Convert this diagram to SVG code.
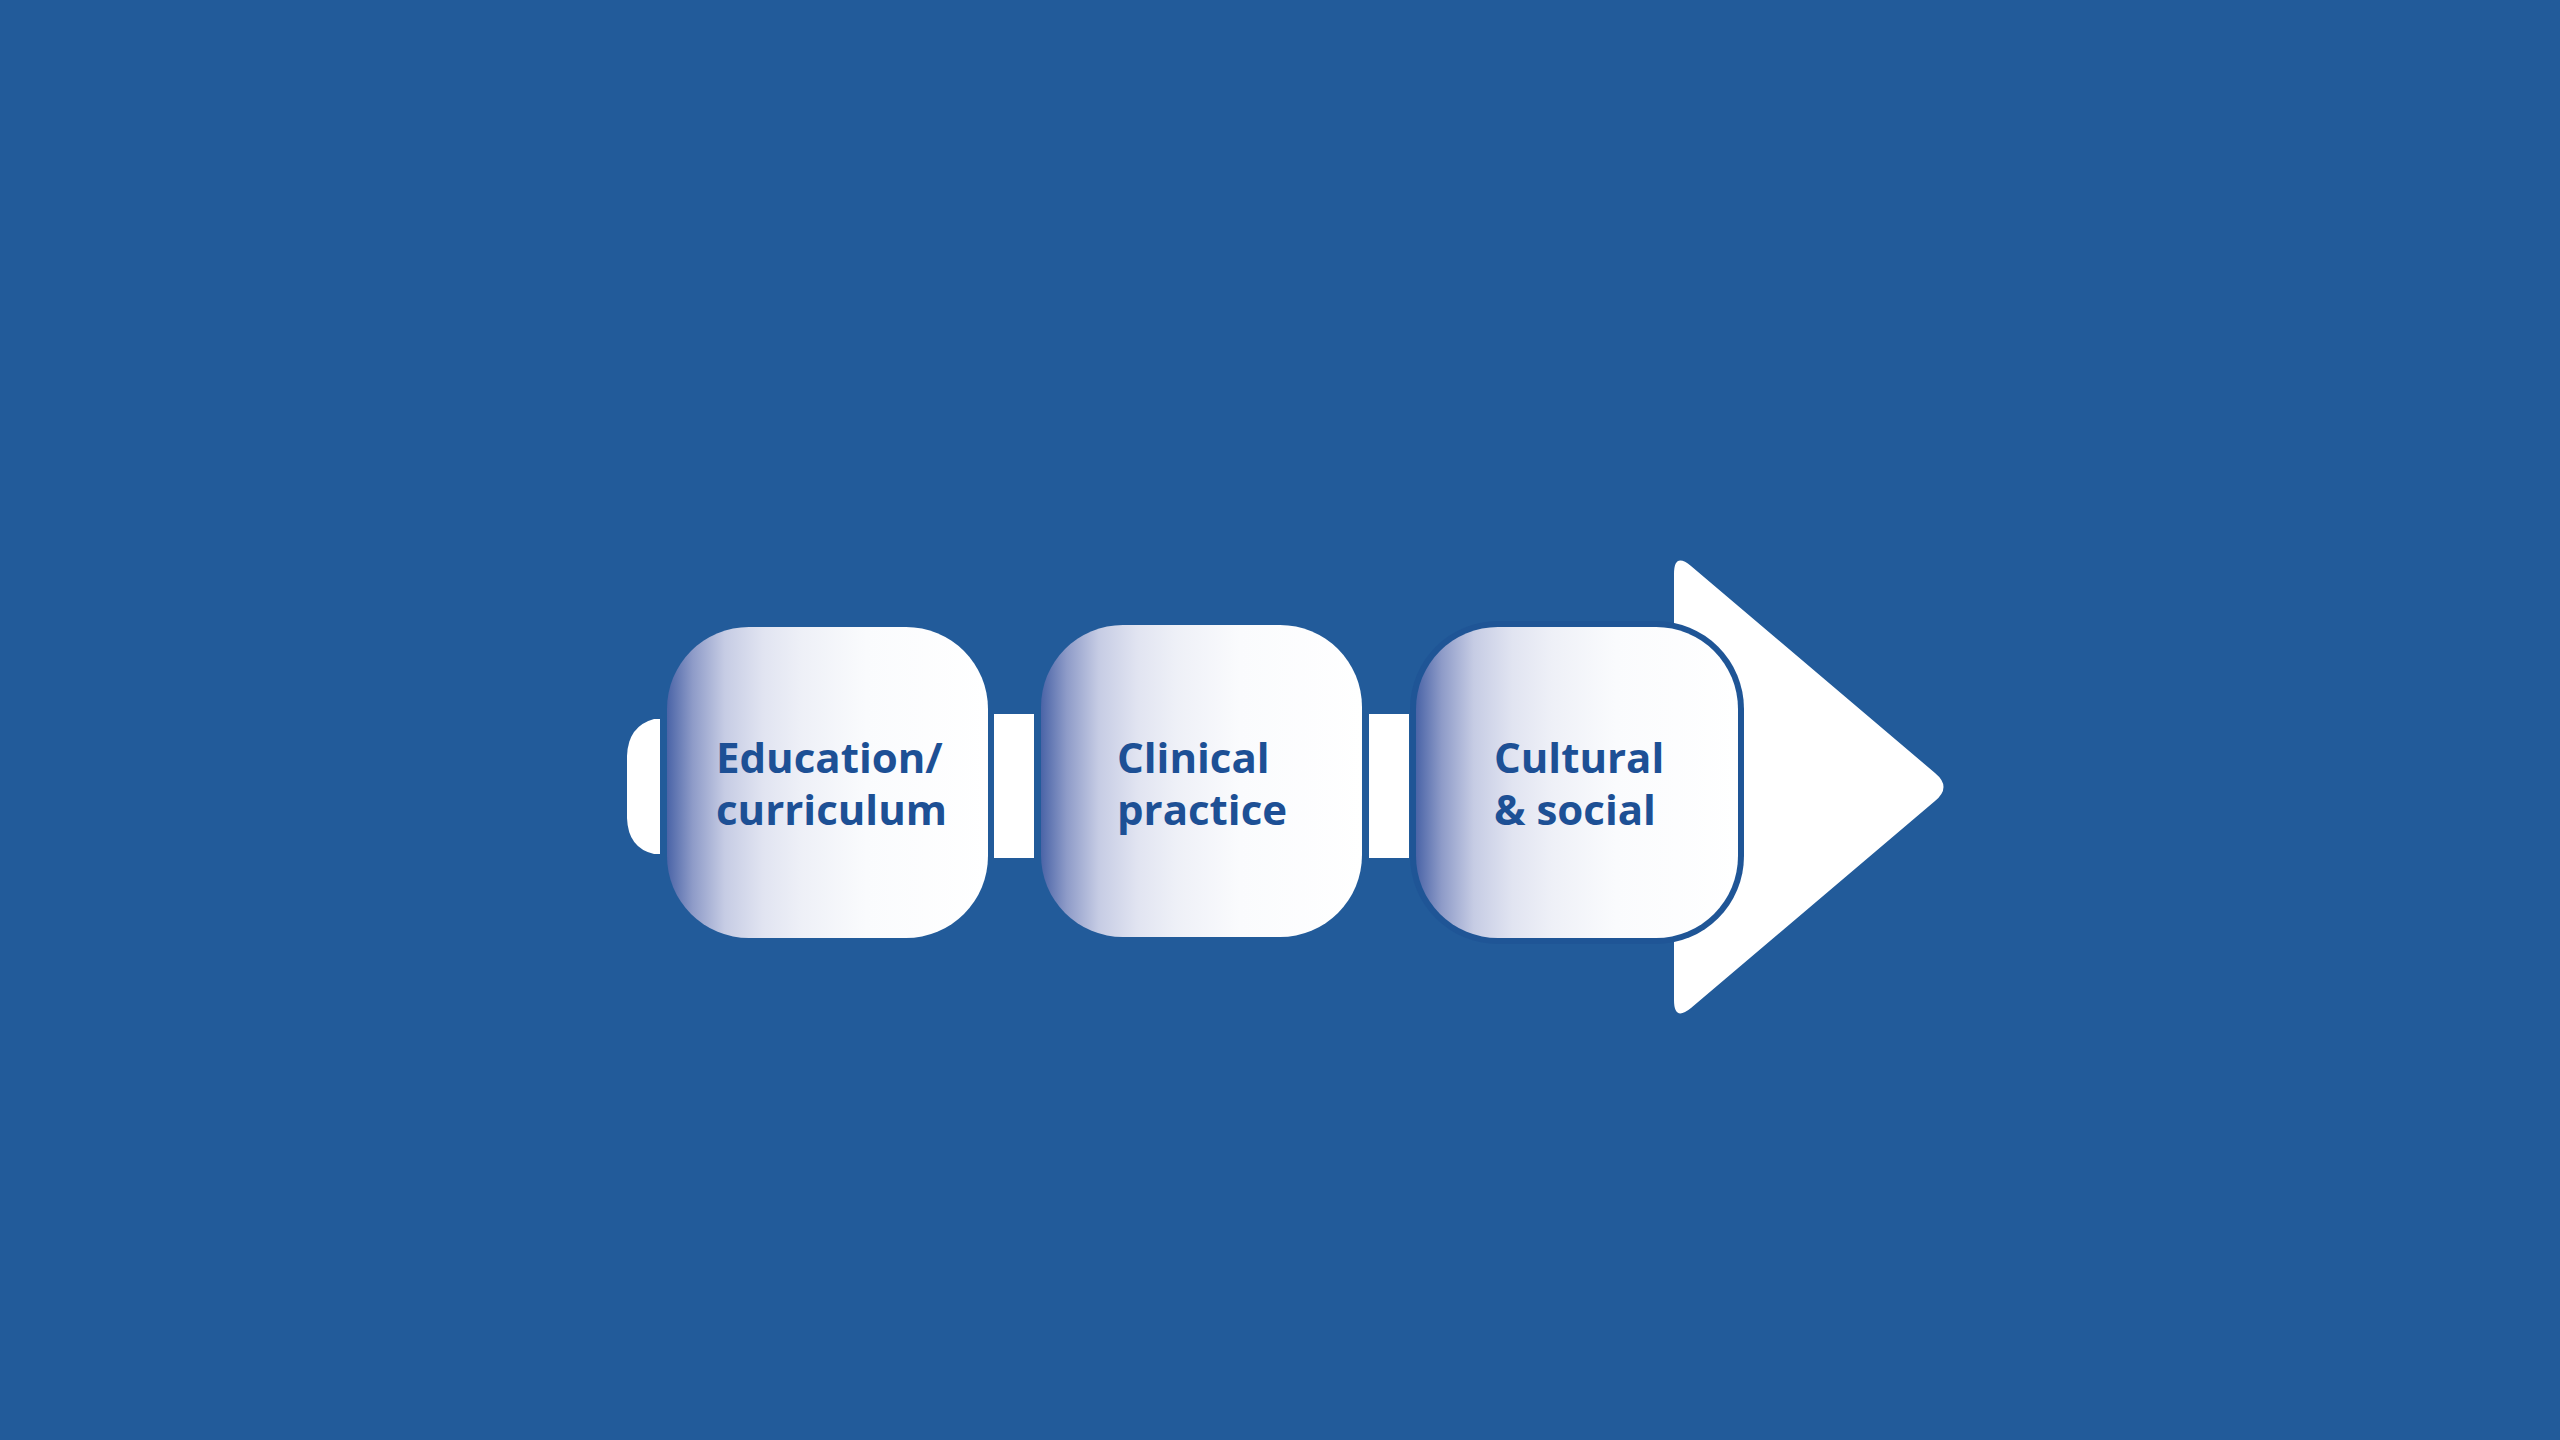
<svg xmlns="http://www.w3.org/2000/svg" width="2560" height="1440" viewBox="0 0 2560 1440">
  <defs>
    <linearGradient id="boxGrad" x1="0" y1="0" x2="1" y2="0">
      <stop offset="0" stop-color="#4a64a7"/>
      <stop offset="0.08" stop-color="#8e9bc8"/>
      <stop offset="0.18" stop-color="#c6cce4"/>
      <stop offset="0.30" stop-color="#e1e4f1"/>
      <stop offset="0.42" stop-color="#eef0f7"/>
      <stop offset="0.62" stop-color="#fafbfd"/>
      <stop offset="1" stop-color="#ffffff"/>
    </linearGradient>
    <style>
      .box { fill: url(#boxGrad); }
      .label { font-family: "Open Sans", "Noto Sans", "Liberation Sans", sans-serif; font-weight: 700; font-size: 42px; fill: #1d5095; }
      .link { fill: #ffffff; }
    </style>
  </defs>
  <rect x="0" y="0" width="2560" height="1440" fill="#225b9a"/>

  <g id="connectors">
    <path class="link" d="M660,719 L654,719 Q628,726 627,756 L627,818 Q628,848 654,854 L660,854 Z"/>
    <rect class="link" x="994" y="714" width="40" height="144"/>
    <rect class="link" x="1369" y="714" width="40" height="144"/>
  </g>

  <g id="arrow">
    <path fill="#ffffff" d="M1674,574 Q1674,552 1691,566 L1935,773 Q1952,787 1935,801 L1691,1008 Q1674,1022 1674,1000 Z"/>
  </g>

  <g id="node-education">
    <rect class="box" x="667" y="627" width="321" height="311" rx="82" ry="82"/>
    <text class="label" x="716" y="773">Education/</text>
    <text class="label" x="716" y="825">curriculum</text>
  </g>

  <g id="node-clinical">
    <rect class="box" x="1041" y="625" width="321" height="312" rx="82" ry="82"/>
    <text class="label" x="1117" y="773">Clinical</text>
    <text class="label" x="1117" y="825">practice</text>
  </g>

  <g id="node-cultural">
    <rect x="1410" y="621" width="334" height="323" rx="88" ry="88" fill="#1f5596"/>
    <rect class="box" x="1416" y="627" width="322" height="311" rx="82" ry="82"/>
    <text class="label" x="1494" y="773">Cultural</text>
    <text class="label" x="1494" y="825">&amp; social</text>
  </g>
</svg>
